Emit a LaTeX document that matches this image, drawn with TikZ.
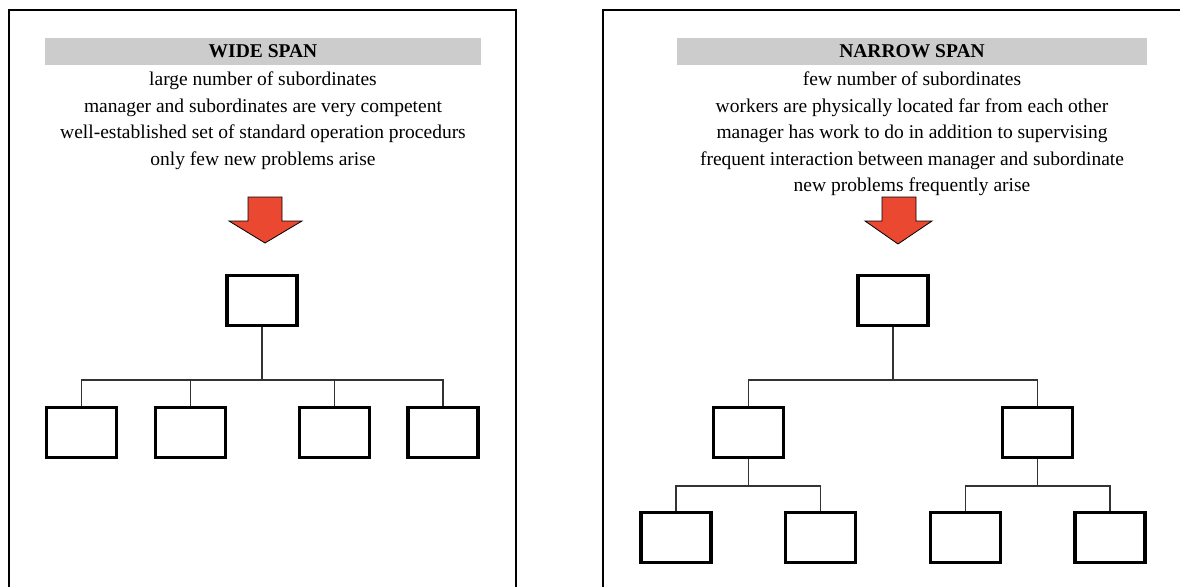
\documentclass[tikz,border=0pt]{standalone}
\usepackage{fontspec}
\setmainfont{Liberation Serif}
\definecolor{bargray}{RGB}{204,204,204}
\definecolor{arrowred}{RGB}{234,72,48}
\begin{document}
\begin{tikzpicture}[x=1pt,y=-1pt,
  panel/.style={draw=black,line width=2.8pt},
  titlebar/.style={fill=bargray,minimum width=#1,minimum height=27pt,inner sep=0pt,
    font=\fontsize{19.5}{24}\selectfont\bfseries},
  bodytext/.style={align=center,anchor=north,inner sep=0pt,
    font=\fontsize{19.5}{26.4}\selectfont},
  orgbox/.style={draw=black,line width=3.2pt,minimum width=70pt,minimum height=50pt,inner sep=0pt},
  link/.style={draw=black!80,line width=1.3pt},
  bigarrow/.style={fill=arrowred,draw=black,line width=0.8pt,line join=miter}]
\useasboundingbox (0,0) rectangle (1180,586);
\clip (0,0) rectangle (1180,586);
\fill[white] (0,0) rectangle (1180,586);
% panels
\draw[panel] (9,10) rectangle (516,600);
\draw[panel] (603,10) rectangle (1190,600);
% left: wide span
\node[titlebar=436pt] (wt) at (263,51.5) {WIDE SPAN};
\node[bodytext] (wb) at (263,72) {large number of subordinates\\
  manager and subordinates are very competent\\
  well-established set of standard operation procedurs\\
  only few new problems arise};
\filldraw[bigarrow] (248,197) -- (282,197) -- (282,221) -- (302,221) -- (265,243) -- (229,221) -- (248,221) -- cycle;
\node[orgbox] (l0) at (262,300.5) {};
\node[orgbox] (l1) at (81.5,432.5) {};
\node[orgbox] (l2) at (190.5,432.5) {};
\node[orgbox] (l3) at (334.5,432.5) {};
\node[orgbox] (l4) at (443,432.5) {};
\foreach \c in {l1,l2,l3,l4} \draw[link] (l0.south) -- ++(0,53) -| (\c.north);
% right: narrow span
\node[titlebar=470pt] (nt) at (912,51.5) {NARROW SPAN};
\node[bodytext] (nb) at (912,72) {few number of subordinates\\
  workers are physically located far from each other\\
  manager has work to do in addition to supervising\\
  frequent interaction between manager and subordinate\\
  new problems frequently arise};
\filldraw[bigarrow] (882,197) -- (916,197) -- (916,221) -- (932,221) -- (898,244) -- (865,221) -- (882,221) -- cycle;
\node[orgbox] (r0) at (893,300.5) {};
\node[orgbox] (r1) at (748.5,432.5) {};
\node[orgbox] (r2) at (1037.5,432.5) {};
\node[orgbox] (r11) at (676,537.5) {};
\node[orgbox] (r12) at (820.5,537.5) {};
\node[orgbox] (r21) at (965.5,537.5) {};
\node[orgbox] (r22) at (1110,537.5) {};
\foreach \c in {r1,r2} \draw[link] (r0.south) -- ++(0,53) -| (\c.north);
\foreach \c in {r11,r12} \draw[link] (r1.south) -- ++(0,27) -| (\c.north);
\foreach \c in {r21,r22} \draw[link] (r2.south) -- ++(0,27) -| (\c.north);
\end{tikzpicture}
\end{document}
